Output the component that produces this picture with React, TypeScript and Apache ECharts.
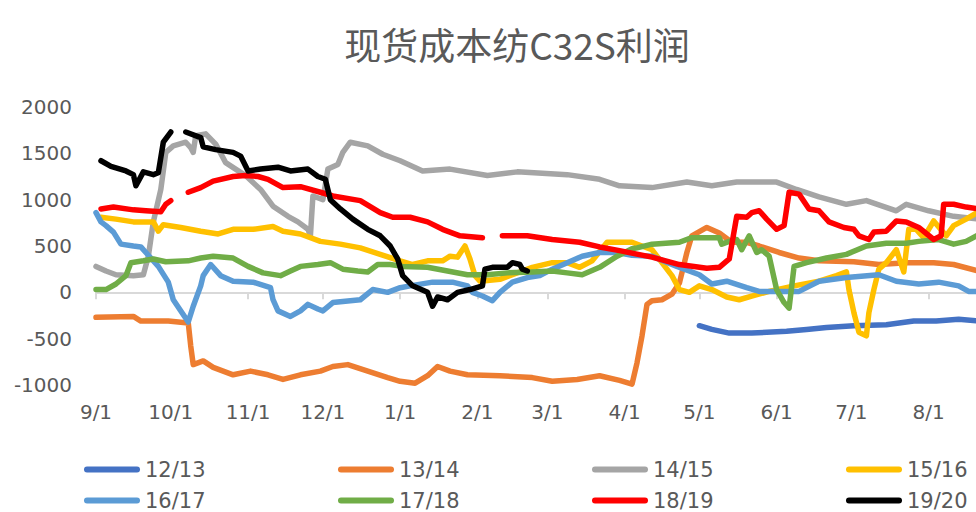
import React, { useEffect, useRef } from "react";
import * as echarts from "echarts";

// x = days since 9/1, y = profit
const monthDays = [0, 30, 61, 91, 122, 153, 181, 212, 242, 273, 303, 334];
const monthLabels = ["9/1", "10/1", "11/1", "12/1", "1/1", "2/1", "3/1", "4/1", "5/1", "6/1", "7/1", "8/1"];
const yTicks = [-1000, -500, 0, 500, 1000, 1500, 2000];

const seriesNames = ["12/13", "13/14", "14/15", "15/16", "16/17", "17/18", "18/19", "19/20"];
const seriesColors = ["#4472C4", "#ED7D31", "#A5A5A5", "#FFC000", "#5B9BD5", "#70AD47", "#FF0000", "#000000"];

type P = [number, number | null];

const s1213: P[] = [[242,-360],[247,-400],[254,-440],[263,-440],[277,-420],[285,-400],[293,-380],[304,-360],[317,-350],[328,-310],[337,-310],[346,-290],[354,-310]];

const s1314: P[] = [[0,-270],[15,-260],[18,-310],[29,-310],[37,-330],[38,-580],[39,-780],[43,-740],[47,-810],[55,-890],[62,-850],[69,-890],[75,-940],[82,-890],[90,-850],[95,-800],[101,-780],[109,-850],[117,-920],[122,-960],[128,-980],[133,-900],[137,-800],[142,-850],[149,-890],[162,-900],[175,-920],[183,-960],[193,-940],[202,-900],[210,-950],[215,-990],[217,-760],[219,-470],[221,-130],[223,-90],[227,-80],[231,-20],[234,100],[237,430],[239,610],[245,700],[250,640],[255,540],[261,540],[266,500],[274,430],[282,370],[290,340],[304,330],[314,300],[325,320],[336,320],[344,300],[354,230]];

const s1415: P[] = [[0,280],[4,230],[8,190],[15,180],[19,190],[21,390],[23,760],[26,1110],[28,1510],[31,1580],[36,1620],[38,1560],[39,1510],[40,1690],[44,1710],[48,1600],[52,1400],[60,1260],[66,1110],[71,930],[77,820],[81,760],[85,680],[86,610],[87,1040],[91,1000],[93,1330],[97,1380],[99,1510],[102,1620],[109,1580],[115,1490],[122,1420],[131,1310],[142,1330],[157,1260],[169,1300],[189,1270],[202,1220],[210,1150],[223,1130],[237,1190],[247,1150],[257,1190],[273,1190],[281,1110],[290,1030],[301,950],[309,990],[321,880],[325,950],[334,880],[344,820],[354,790]];

const s1516: P[] = [[2,810],[8,790],[15,760],[23,760],[25,660],[27,730],[34,700],[42,660],[49,630],[55,680],[63,680],[71,710],[75,660],[82,630],[90,550],[98,520],[106,480],[114,410],[122,340],[127,300],[133,340],[139,340],[142,390],[145,380],[148,500],[150,360],[152,180],[154,120],[162,140],[167,190],[175,270],[183,320],[189,320],[194,270],[199,340],[205,540],[215,540],[223,460],[227,320],[231,180],[234,30],[238,0],[242,70],[247,30],[253,-50],[258,-80],[263,-40],[270,10],[280,70],[290,120],[297,180],[301,220],[302,30],[304,-220],[306,-430],[309,-470],[310,-220],[312,30],[314,250],[317,320],[321,460],[324,220],[326,680],[329,680],[332,590],[336,770],[341,610],[344,720],[349,790],[354,870]];

const s1617: P[] = [[0,860],[2,760],[4,720],[7,650],[10,520],[15,500],[18,490],[20,430],[25,280],[29,110],[31,-80],[37,-320],[39,-150],[42,70],[43,180],[46,300],[50,180],[55,120],[63,110],[70,50],[71,-80],[73,-200],[78,-260],[82,-200],[85,-130],[89,-180],[91,-200],[95,-110],[106,-80],[111,30],[117,0],[122,50],[126,70],[135,110],[143,110],[149,70],[151,0],[155,-40],[159,-90],[162,0],[167,110],[173,160],[178,180],[183,250],[189,320],[195,390],[202,430],[209,430],[215,400],[223,390],[233,280],[242,190],[247,90],[253,120],[261,50],[266,10],[274,10],[282,10],[290,120],[301,160],[314,190],[321,120],[330,90],[338,110],[346,70],[350,10],[354,10]];

const s1718: P[] = [[0,30],[4,30],[8,90],[12,180],[14,320],[19,340],[23,360],[28,330],[37,340],[42,370],[47,390],[55,370],[61,280],[67,210],[74,180],[78,230],[82,280],[89,300],[94,320],[99,250],[105,230],[109,220],[113,300],[118,300],[123,280],[133,270],[141,230],[149,190],[157,190],[165,210],[175,220],[183,230],[189,210],[195,190],[202,270],[209,390],[215,470],[217,480],[223,520],[234,540],[239,590],[250,590],[251,520],[254,550],[257,570],[259,460],[262,610],[265,430],[267,460],[270,390],[273,30],[276,-110],[278,-170],[280,280],[285,320],[293,370],[301,410],[309,500],[317,530],[325,530],[330,550],[338,570],[344,520],[349,550],[354,620]];

const s1819: P[] = [[2,900],[7,920],[15,890],[20,880],[26,870],[28,950],[30,990],[31,null],[37,1080],[42,1130],[47,1200],[55,1250],[60,1260],[65,1250],[69,1220],[75,1130],[82,1140],[90,1080],[95,1040],[106,990],[114,860],[119,810],[126,810],[133,760],[139,680],[146,610],[155,590],[156,null],[163,610],[173,610],[183,570],[194,540],[202,490],[210,450],[223,380],[234,300],[245,260],[250,270],[254,360],[257,820],[261,810],[263,860],[266,880],[269,790],[273,680],[276,720],[278,1080],[282,1060],[286,900],[290,880],[294,760],[300,700],[304,680],[306,610],[310,570],[312,650],[317,660],[321,770],[325,760],[330,700],[336,570],[339,610],[340,950],[344,950],[349,920],[354,900]];

const s1920: P[] = [[2,1420],[6,1360],[12,1310],[15,1270],[16,1150],[19,1300],[23,1270],[25,1290],[27,1620],[30,1730],[31,null],[36,1730],[42,1670],[43,1570],[48,1540],[55,1510],[58,1470],[61,1310],[66,1330],[73,1350],[78,1310],[85,1330],[89,1250],[92,1220],[94,1000],[98,900],[103,790],[109,680],[114,610],[118,500],[121,360],[123,180],[127,70],[133,0],[135,-150],[137,-50],[141,-80],[145,0],[150,30],[155,70],[156,250],[159,270],[165,270],[167,320],[170,300],[171,250],[173,230]];

const allData = [s1213, s1314, s1415, s1516, s1617, s1718, s1819, s1920];

const labelColor = "#595959";
const axisColor = "#D9D9D9";
const latinFont = "DejaVu Sans";
const capsule = "path://M3,0 L53,0 A3,3 0 0 1 53,6 L3,6 A3,3 0 0 1 3,0 Z";

export default function App() {
  const ref = useRef<HTMLDivElement>(null);
  useEffect(() => {
    if (!ref.current) return;
    const chart = echarts.init(ref.current, null, { renderer: "svg" });
    const colLeft = [84, 338, 592, 846];
    const rowTop = [459, 490];
    const legends = seriesNames.map((n, i) => ({
      data: [n],
      left: colLeft[i % 4],
      top: rowTop[Math.floor(i / 4)],
      icon: capsule,
      itemWidth: 56,
      itemHeight: 6,
      padding: 0,
      selectedMode: false,
      textStyle: { color: labelColor, fontSize: 21, fontFamily: latinFont },
    }));
    chart.setOption({
      animation: false,
      backgroundColor: "#ffffff",
      title: {
        text: "现货成本纺C32S利润",
        left: "center",
        top: 20,
        textStyle: { color: labelColor, fontSize: 37, fontWeight: "normal", fontFamily: "Noto Sans CJK SC" },
      },
      legend: legends,
      grid: { left: 96, right: 28, top: 107, bottom: 127, containLabel: false },
      xAxis: {
        type: "value",
        min: 0,
        max: 365,
        splitLine: { show: false },
        axisLine: { show: true, onZero: true, lineStyle: { color: axisColor, width: 2 } },
        axisTick: { show: true, length: 7, customValues: monthDays, lineStyle: { color: axisColor, width: 2 } },
        axisLabel: {
          customValues: monthDays,
          margin: 17,
          color: labelColor,
          fontSize: 20,
          fontFamily: latinFont,
          formatter: (v: number) => monthLabels[monthDays.indexOf(v)] ?? "",
        },
      },
      yAxis: {
        type: "value",
        min: yTicks[0],
        max: yTicks[yTicks.length - 1],
        interval: 500,
        splitLine: { show: false },
        axisLine: { show: false },
        axisTick: { show: false },
        axisLabel: {
          margin: 24,
          color: labelColor,
          fontSize: 20,
          fontFamily: latinFont,
          formatter: (v: number) => String(v),
        },
      },
      series: seriesNames.map((n, i) => ({
        name: n,
        type: "line",
        data: allData[i],
        symbol: "none",
        showSymbol: false,
        connectNulls: false,
        color: seriesColors[i],
        lineStyle: { color: seriesColors[i], width: 5.5, cap: "round", join: "round" },
        itemStyle: { color: seriesColors[i] },
        z: 2 + i,
      })),
    });
    return () => chart.dispose();
  }, []);
  return (
    <div style={{ position: "absolute", left: 0, top: 0, width: 976, height: 512, overflow: "hidden", background: "#fff" }}>
      <div ref={ref} style={{ width: 1034, height: 512 }} />
    </div>
  );
}
